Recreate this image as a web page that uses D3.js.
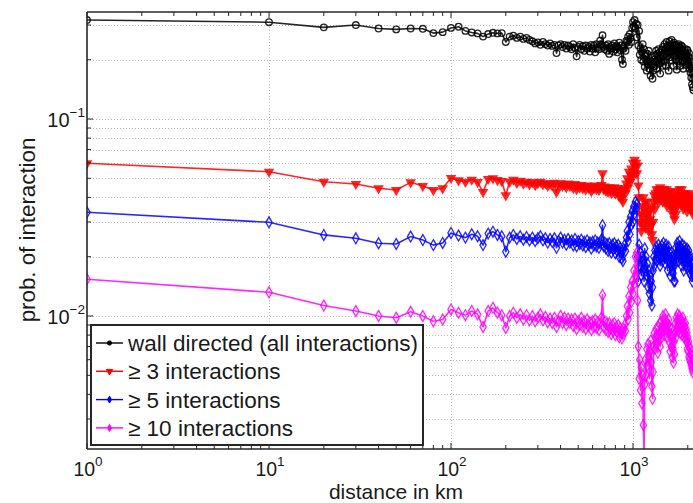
<!DOCTYPE html>
<html><head><meta charset="utf-8">
<script src="https://cdn.jsdelivr.net/npm/d3@7"></script>
<style>body{margin:0;background:#fff;overflow:hidden} svg{display:block;font-family:"Liberation Sans",Arial,sans-serif}</style>
</head><body><svg id="c" width="693" height="503"></svg>
<script>
// distance bins (km)
const distances = [
1,10,20,30,40,50,60,70,80,90,
100,110,120,130,140,150,160,170,180,190,
200,210,220,230,240,250,260,270,280,290,
300,310,320,330,340,350,360,370,380,390,
400,410,420,430,440,450,460,470,480,490,
500,510,520,530,540,550,560,570,580,590,
600,610,620,630,640,650,660,670,680,690,
700,710,720,730,740,750,760,770,780,790,
800,810,820,830,840,850,860,870,880,890,
900,910,920,930,940,950,960,970,980,990,
1000,1010,1020,1030,1040,1050,1060,1070,1080,1090,
1100,1110,1120,1130,1140,1150,1160,1170,1180,1190,
1200,1210,1220,1230,1240,1250,1260,1270,1280,1290,
1300,1310,1320,1330,1340,1350,1360,1370,1380,1390,
1400,1410,1420,1430,1440,1450,1460,1470,1480,1490,
1500,1510,1520,1530,1540,1550,1560,1570,1580,1590,
1600,1610,1620,1630,1640,1650,1660,1670,1680,1690,
1700,1710,1720,1730,1740,1750,1760,1770,1780,1790,
1800,1810,1820,1830,1840,1850,1860,1870,1880,1890,
1900,1910,1920,1930,1940,1950,1960,1970,1980,1990,
2000,2010,2020,2030,2040,2050,2060,2070,2080,2090,
2100,2110,2120,2130,2140,2150];

const wallAll = [
.318,.310,.292,.300,.288,.285,.288,.287,.273,.276,
.290,.294,.280,.275,.272,.262,.270,.274,.272,.273,
.246,.262,.265,.258,.262,.255,.258,.252,.248,.242,
.245,.238,.246,.240,.236,.242,.235,.238,.216,.236,
.240,.232,.238,.228,.236,.232,.226,.240,.230,.208,
.232,.238,.226,.234,.222,.236,.228,.232,.220,.238,
.228,.236,.218,.240,.230,.226,.250,.238,.266,.232,
.226,.236,.222,.240,.214,.232,.228,.236,.220,.242,
.226,.234,.218,.230,.244,.224,.236,.200,.190,.228,
.236,.222,.250,.246,.262,.238,.270,.258,.246,.290,
.310,.296,.318,.288,.305,.260,.300,.236,.280,.212,
.228,.200,.218,.240,.196,.226,.184,.210,.200,.176,
.214,.190,.222,.180,.196,.166,.205,.188,.160,.176,
.200,.185,.210,.195,.222,.180,.214,.200,.226,.190,
.218,.170,.206,.196,.224,.186,.232,.210,.196,.240,
.214,.228,.186,.246,.208,.236,.218,.176,.230,.248,
.206,.236,.220,.252,.198,.240,.222,.186,.244,.210,
.236,.226,.200,.238,.178,.218,.230,.196,.240,.216,
.232,.186,.224,.208,.236,.214,.196,.232,.222,.180,
.210,.226,.196,.218,.204,.226,.188,.214,.200,.224,
.190,.208,.196,.216,.180,.204,.188,.172,.196,.162,
.180,.150,.170,.145,.160,.140];

const atLeast3 = [
.0596,.054,.048,.0468,.0445,.0436,.0477,.0457,.0436,.0445,
.0502,.0488,.0480,.0492,.0478,.0426,.0496,.0500,.0490,.0484,
.0410,.0480,.0492,.0474,.0486,.0470,.0480,.0466,.0478,.0462,
.0472,.0480,.0466,.0472,.0458,.0470,.0460,.0474,.0426,.0462,
.0472,.0458,.0466,.0450,.0470,.0456,.0462,.0446,.0468,.0440,
.0458,.0448,.0462,.0444,.0456,.0438,.0460,.0446,.0452,.0430,
.0456,.0444,.0460,.0440,.0452,.0436,.0448,.0462,.0530,.0440,
.0454,.0432,.0446,.0426,.0450,.0438,.0420,.0446,.0432,.0450,
.0418,.0440,.0428,.0446,.0404,.0436,.0420,.0396,.0380,.0430,
.0444,.0420,.0470,.0500,.0450,.0540,.0480,.0520,.0560,.0500,
.0600,.0540,.0620,.0570,.0600,.0530,.0580,.0460,.0400,.0300,
.0330,.0270,.0360,.0290,.0400,.0320,.0380,.0280,.0350,.0300,
.0380,.0330,.0270,.0340,.0310,.0360,.0290,.0260,.0243,.0300,
.0380,.0410,.0350,.0420,.0390,.0440,.0400,.0430,.0380,.0440,
.0410,.0450,.0390,.0430,.0400,.0440,.0380,.0420,.0440,.0400,
.0430,.0380,.0420,.0440,.0360,.0410,.0430,.0390,.0420,.0370,
.0400,.0430,.0380,.0350,.0410,.0330,.0370,.0400,.0340,.0310,
.0360,.0400,.0330,.0380,.0420,.0360,.0400,.0430,.0380,.0410,
.0440,.0390,.0420,.0370,.0410,.0440,.0400,.0380,.0420,.0350,
.0390,.0410,.0360,.0400,.0380,.0420,.0370,.0390,.0340,.0380,
.0400,.0360,.0390,.0420,.0370,.0400,.0350,.0380,.0410,.0360,
.0390,.0350,.0370,.0330,.0360,.0340];

const atLeast5 = [
.0336,.0299,.0258,.0248,.0234,.0232,.0253,.0243,.0229,.0235,
.0264,.0256,.0250,.0260,.0254,.0229,.0262,.0268,.0258,.0254,
.0212,.0250,.0258,.0246,.0254,.0244,.0252,.0242,.0250,.0240,
.0248,.0254,.0242,.0248,.0236,.0246,.0238,.0248,.0222,.0240,
.0250,.0236,.0244,.0230,.0246,.0236,.0242,.0228,.0246,.0226,
.0240,.0232,.0244,.0228,.0238,.0224,.0242,.0230,.0236,.0220,
.0238,.0228,.0242,.0226,.0236,.0222,.0234,.0244,.0289,.0226,
.0236,.0220,.0232,.0214,.0234,.0222,.0210,.0230,.0218,.0234,
.0208,.0226,.0214,.0230,.0200,.0222,.0210,.0196,.0190,.0218,
.0230,.0214,.0250,.0270,.0240,.0300,.0260,.0320,.0290,.0340,
.0300,.0360,.0330,.0379,.0350,.0370,.0200,.0150,.0230,.0180,
.0210,.0160,.0200,.0170,.0190,.0150,.0220,.0170,.0200,.0160,
.0185,.0140,.0170,.0130,.0160,.0120,.0150,.0113,.0140,.0170,
.0200,.0180,.0215,.0195,.0225,.0190,.0215,.0200,.0230,.0195,
.0220,.0180,.0215,.0200,.0228,.0190,.0215,.0235,.0200,.0220,
.0185,.0215,.0230,.0195,.0218,.0170,.0205,.0225,.0190,.0210,
.0160,.0195,.0180,.0210,.0170,.0200,.0165,.0190,.0150,.0180,
.0150,.0200,.0222,.0190,.0210,.0235,.0200,.0225,.0190,.0215,
.0240,.0205,.0225,.0195,.0220,.0180,.0210,.0230,.0195,.0215,
.0170,.0200,.0225,.0190,.0210,.0180,.0215,.0195,.0220,.0175,
.0205,.0190,.0215,.0180,.0200,.0165,.0195,.0175,.0200,.0160,
.0185,.0170,.0150,.0175,.0160,.0170];

const atLeast10 = [
.01536,.0132,.0113,.0106,.0100,.0098,.0105,.0100,.0094,.0096,
.0108,.0104,.0101,.0106,.0102,.0088,.0106,.0110,.0104,.0101,
.0087,.0100,.0104,.0098,.0102,.0096,.0101,.0095,.0100,.0094,
.0098,.0102,.0095,.0099,.0093,.0097,.0092,.0098,.0088,.0094,
.0100,.0092,.0098,.0090,.0097,.0092,.0096,.0089,.0097,.0086,
.0094,.0090,.0098,.0088,.0094,.0086,.0096,.0089,.0093,.0085,
.0094,.0088,.0096,.0087,.0093,.0085,.0092,.0098,.0128,.0088,
.0094,.0085,.0092,.0083,.0092,.0086,.0081,.0090,.0084,.0092,
.0080,.0088,.0083,.0090,.0078,.0087,.0082,.0077,.0081,.0086,
.0090,.0084,.0100,.0112,.0096,.0126,.0104,.0140,.0118,.0150,
.0130,.0170,.0146,.0200,.0160,.0210,.0120,.0070,.0048,.0060,
.0042,.0055,.0036,.0050,.0028,.0019,.0045,.0060,.0050,.0068,
.0056,.0072,.0062,.0048,.0066,.0075,.0058,.0044,.0038,.0052,
.0070,.0082,.0068,.0078,.0086,.0072,.0080,.0065,.0088,.0076,
.0092,.0070,.0082,.0094,.0078,.0088,.0100,.0084,.0096,.0080,
.0090,.0102,.0086,.0094,.0078,.0090,.0084,.0096,.0074,.0088,
.0066,.0080,.0070,.0086,.0062,.0078,.0068,.0058,.0074,.0064,
.0082,.0092,.0078,.0098,.0086,.0094,.0102,.0084,.0096,.0088,
.0100,.0090,.0082,.0096,.0086,.0094,.0080,.0090,.0098,.0084,
.0092,.0078,.0088,.0080,.0092,.0076,.0086,.0074,.0082,.0068,
.0078,.0066,.0074,.0062,.0070,.0060,.0068,.0058,.0064,.0056,
.0062,.0054,.0060,.0052,.0058,.0055];

const seriesNames = ["wall directed (all interactions)", "\u2265 3 interactions", "\u2265 5 interactions", "\u2265 10 interactions"];
const seriesValues = [wallAll, atLeast3, atLeast5, atLeast10];
const xTickValues = [1, 10, 100, 1000];
const xTickExponents = ["0", "1", "2", "3"];
const yTickValues = [0.01, 0.1];
const yTickExponents = ["\u22122", "\u22121"];
const xLimits = [1, 10000];
const yLimits = [0.002113, 0.3493];

// styles
const colors = ["#000000", "#ff0000", "#0000ff", "#ff00ff"];
const markerTypes = ["circle", "triangleDown", "diamond", "diamond"];

(function () {
const svg = d3.select("#c");
const pL = 87, pT = 12, pB = 449, pR = 815;
const x = d3.scaleLog().domain(xLimits).range([pL, pR]);
const y = d3.scaleLog().domain(yLimits).range([pB, pT]);

svg.append("rect").attr("width", 693).attr("height", 503).attr("fill", "#fff");

const defs = svg.append("defs");
defs.append("clipPath").attr("id", "plotclip").append("rect")
  .attr("x", pL).attr("y", pT).attr("width", pR - pL).attr("height", pB - pT);

// gridlines
const yGrid = [];
for (let e = -3; e <= -1; e++) for (let m = 1; m <= 9; m++) { const v = m * Math.pow(10, e); if (v >= yLimits[0] && v <= yLimits[1]) yGrid.push(v); }
const grid = svg.append("g").attr("stroke", "#b8b8b8").attr("stroke-width", 1).attr("stroke-dasharray", "1,2");
grid.selectAll("line.h").data(yGrid).join("line").attr("class", "h")
  .attr("x1", pL).attr("x2", pR).attr("y1", d => Math.round(y(d)) + 0.5).attr("y2", d => Math.round(y(d)) + 0.5);
grid.selectAll("line.v").data(xTickValues.slice(1)).join("line").attr("class", "v")
  .attr("y1", pT).attr("y2", pB).attr("x1", d => Math.round(x(d)) + 0.5).attr("x2", d => Math.round(x(d)) + 0.5);

// data
function symbolFor(t, size) {
  if (t === "circle") return d3.symbol(d3.symbolCircle, size)();
  if (t === "diamond") return d3.symbol(d3.symbolDiamond, size)();
  return d3.symbol(d3.symbolTriangle, size)();
}
const plot = svg.append("g").attr("clip-path", "url(#plotclip)");
const line = d3.line().x(d => x(d[0])).y(d => y(d[1]));
seriesValues.forEach((vals, i) => {
  const pts = distances.map((d, j) => [d, vals[j]]);
  const g = plot.append("g");
  g.append("path").attr("d", line(pts)).attr("fill", "none").attr("stroke", colors[i])
    .attr("stroke-width", 1.6).attr("stroke-linejoin", "round").attr("opacity", 0.85);
  const filled = markerTypes[i] === "triangleDown";
  g.selectAll("path.m").data(pts).join("path").attr("class", "m")
    .attr("d", symbolFor(markerTypes[i], filled ? 30 : 34))
    .attr("transform", d => `translate(${x(d[0])},${y(d[1])})` + (filled ? " rotate(180)" : ""))
    .attr("fill", filled ? colors[i] : "none").attr("stroke", colors[i]).attr("stroke-width", 1.3).attr("opacity", 0.85);
});

// axes frame + ticks
const axc = "#262626";
const ax = svg.append("g").attr("stroke", axc).attr("fill", "none");
ax.append("line").attr("x1", pL).attr("x2", pL).attr("y1", pT).attr("y2", pB).attr("stroke-width", 1.6);
ax.append("line").attr("x1", pL).attr("x2", 693).attr("y1", pT).attr("y2", pT).attr("stroke-width", 1.6);
ax.append("line").attr("x1", pL).attr("x2", 693).attr("y1", pB).attr("y2", pB).attr("stroke-width", 1.6);
const xMinor = [];
for (let e = 0; e <= 3; e++) for (let m = 2; m <= 9; m++) xMinor.push(m * Math.pow(10, e));
[[xTickValues, 6], [xMinor, 4]].forEach(([vals, len]) => {
  vals.forEach(v => {
    const px = x(v);
    ax.append("line").attr("x1", px).attr("x2", px).attr("y1", pB).attr("y2", pB - len).attr("stroke-width", 1);
    ax.append("line").attr("x1", px).attr("x2", px).attr("y1", pT).attr("y2", pT + len).attr("stroke-width", 1);
  });
});
yGrid.forEach(v => {
  const major = yTickValues.includes(v);
  ax.append("line").attr("x1", pL).attr("x2", pL + (major ? 6 : 4)).attr("y1", y(v)).attr("y2", y(v)).attr("stroke-width", 1);
});

// tick labels
const tl = svg.append("g").attr("fill", "#1a1a1a");
xTickValues.forEach((v, i) => {
  const t = tl.append("text").attr("x", x(v) + 1).attr("y", 475.5).attr("text-anchor", "middle");
  t.append("tspan").attr("font-size", 19.5).text("10");
  t.append("tspan").attr("font-size", 13.5).attr("dy", -10).text(xTickExponents[i]);
});
yTickValues.forEach((v, i) => {
  const t = tl.append("text").attr("x", 85).attr("y", y(v) + 8).attr("text-anchor", "end");
  t.append("tspan").attr("font-size", 20).text("10");
  t.append("tspan").attr("font-size", 13.5).attr("dy", -10).text(yTickExponents[i]);
});

// axis labels
svg.append("text").attr("x", 396).attr("y", 498.5).attr("text-anchor", "middle")
  .attr("font-size", 21).attr("fill", "#1a1a1a").text("distance in km");
svg.append("text").attr("transform", "translate(35,230) rotate(-90)").attr("text-anchor", "middle")
  .attr("font-size", 22.3).attr("fill", "#1a1a1a").text("prob. of interaction");

// legend
const lg = svg.append("g");
lg.append("rect").attr("x", 91).attr("y", 325).attr("width", 332).attr("height", 120)
  .attr("fill", "#fff").attr("stroke", "#262626").attr("stroke-width", 2);
seriesNames.forEach((name, i) => {
  const cy = 343 + i * 28.3;
  lg.append("line").attr("x1", 96).attr("x2", 123).attr("y1", cy).attr("y2", cy)
    .attr("stroke", colors[i]).attr("stroke-width", 1.4);
  const filled = markerTypes[i] === "triangleDown";
  lg.append("path").attr("d", symbolFor(markerTypes[i], filled ? 18 : 14))
    .attr("transform", `translate(109.5,${cy})` + (filled ? " rotate(180)" : ""))
    .attr("fill", colors[i]).attr("stroke", colors[i]).attr("stroke-width", 1);
  lg.append("text").attr("x", 128).attr("y", cy + 8).attr("font-size", 22.5).attr("fill", "#1a1a1a").text(name);
});
})();
</script>
</body></html>
